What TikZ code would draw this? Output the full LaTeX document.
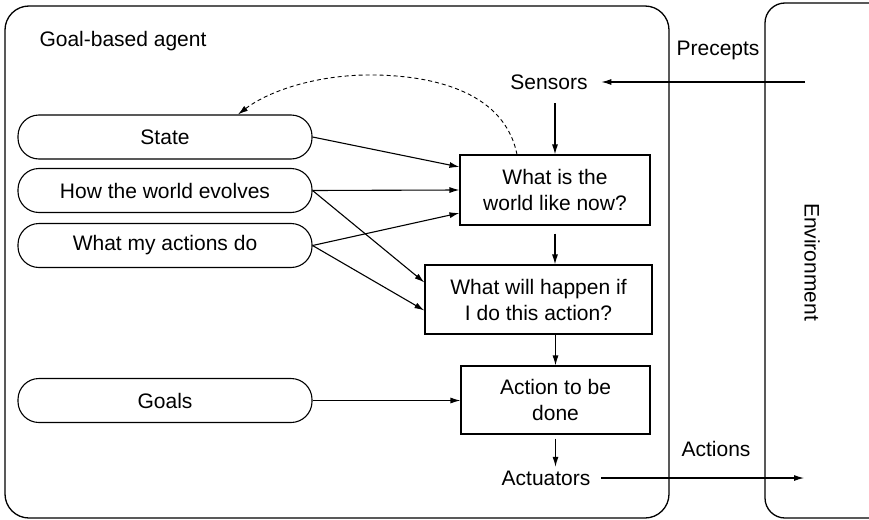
\documentclass[tikz,border=0pt]{standalone}
\usepackage{fontspec}
\setmainfont{Liberation Sans}
\usetikzlibrary{arrows.meta,calc}
\begin{document}
\begin{tikzpicture}[x=1pt,y=-1pt,
  font=\fontsize{21}{26}\selectfont,
  line width=1.1pt,
  pill/.style={draw, rounded corners=21pt, minimum width=294pt, minimum height=44pt, inner sep=0pt},
  stepbox/.style={draw, align=center, inner sep=0pt},
  arr/.style={-{Latex[length=10pt,width=6pt]}},
  frame/.style={draw, line width=1.3pt, rounded corners=24pt}]
\useasboundingbox (0,0) rectangle (869,519);
\clip (0,0) rectangle (869,519);

% agent and environment frames
\draw[frame] (5,6) rectangle (669,518);
\draw[frame, rounded corners=20pt] (765,3) rectangle (930,518);

% plain labels
\node (title) at (123,41) {Goal-based agent};
\node (precepts) at (718,50) {Precepts};
\node (sensors) at (549,82) {Sensors};
\node (actuators) at (546,478) {Actuators};
\node (actions) at (716,449) {Actions};
\node[rotate=-90] (env) at (812,262) {Environment};

% internal knowledge
\node[pill] (state) at (165,137) {State};
\node[pill] (evolves) at (165,190.5) {How the world evolves};
\node[pill] (mydo) at (165,245.5) {What my actions do};
\node[pill] (goals) at (165,400.5) {Goals};

% reasoning steps
\node[stepbox, minimum width=190pt, minimum height=70pt] (w1) at (555,190) {What is the\\world like now?};
\node[stepbox, minimum width=227pt, minimum height=69pt] (w2) at (538.5,299.5) {What will happen if\\I do this action?};
\node[stepbox, minimum width=189pt, minimum height=68pt] (w3) at (555.5,400) {Action to be\\done};

% links to the environment
\coordinate (perin) at (805,82);
\coordinate (actout) at (804,478);
\draw[arr, shorten >=10pt] (perin) -- (sensors.east);
\draw[arr, shorten <=7pt] (actuators.east) -- (actout);

% main chain
\draw[arr, shorten <=10pt] (sensors.south -| w1.north) -- (w1.north);
\draw[arr, shorten <=8pt] (w1.south) -- (w1.south |- w2.north);
\draw[arr] (w2.south -| w3.north) -- (w3.north);
\draw[arr, shorten <=4pt] (w3.south) -- (w3.south |- actuators.north);

% knowledge feeding the steps
\draw[arr] (state.east) -- ($(w1.west)+(0,-23)$);
\draw[arr] (evolves.east) -- (w1.west);
\draw[arr] (mydo.east) -- ($(w1.west)+(0,23)$);
\draw[arr] (evolves.east) -- ($(w2.west)+(0,-17)$);
\draw[arr] (mydo.east) -- ($(w2.west)+(0,11)$);
\draw[arr] (goals.east) -- (goals.east -| w3.west);

% state update
\coordinate (peak) at (375,75);
\draw[arr, line width=0.9pt, dash pattern=on 4pt off 3pt]
  ($(w1.north)+(-38,0)$) .. controls (505,95) and (440,76) .. (peak)
  .. controls (320,74) and (270,90) .. ($(state.north)+(73,0)$);
\end{tikzpicture}
\end{document}
